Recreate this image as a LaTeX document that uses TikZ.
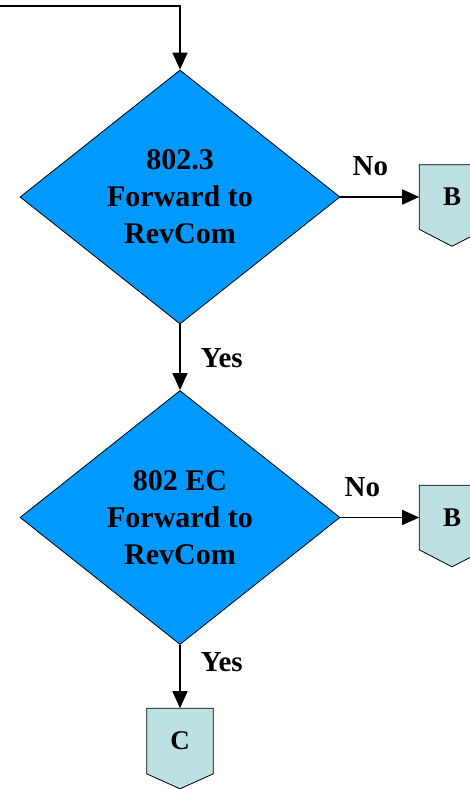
\documentclass[tikz,border=0pt]{standalone}
\usepackage{fontspec}
\setmainfont{Liberation Serif}
\usetikzlibrary{arrows.meta, shapes.geometric, backgrounds}
\definecolor{decisioncolor}{HTML}{0099FF}
\definecolor{offpagecolor}{HTML}{BDE0E3}

\begin{document}
\begin{tikzpicture}[
    x=1pt, y=-1pt,
    >={Triangle[length=17pt, width=15pt]},
    line width=1.6pt,
    decision/.style={diamond, draw=black, line width=0.8pt, fill=decisioncolor,
        minimum width=320pt, minimum height=254pt, inner sep=0pt, align=center,
        font=\fontsize{30}{37}\selectfont\bfseries},
    offpage/.style={minimum width=64pt, minimum height=63pt, inner sep=0pt,
        font=\fontsize{27}{30}\selectfont\bfseries},
    offpageshape/.style={draw=black, line width=0.8pt, fill=offpagecolor},
    answer/.style={inner sep=0pt, font=\fontsize{29}{32}\selectfont\bfseries}
]
    \useasboundingbox (0,0) rectangle (469,789);

    % Decisions
    \node[decision] (dec1) at (180,197) {802.3\\Forward to\\RevCom};
    \node[decision] (dec2) at (180,517.5) {802 EC\\Forward to\\RevCom};

    % Off-page connectors
    \node[offpage] (b1) at (452,197) {B};
    \node[offpage] (b2) at (452,517.5) {B};
    \node[offpage, minimum width=65pt, minimum height=64pt] (c) at (180,741) {C};
    \begin{scope}[on background layer]
        \foreach \n/\d in {b1/17, b2/17, c/15}
            \draw[offpageshape] (\n.north west) -- (\n.north east) -- (\n.south east)
                -- ([yshift=-\d pt]\n.south) -- (\n.south west) -- cycle;
    \end{scope}

    % Flow
    \coordinate (entry) at (0,6);
    \draw[->] (entry) -| (dec1.north);
    \draw[->] (dec1.east) -- (b1.west) node[answer, pos=0.38, above=20pt] {No};
    \draw[->] (dec1.south) -- (dec2.north) node[answer, pos=0.52, right=20pt] {Yes};
    \draw[->] (dec2.east) -- (b2.west) node[answer, pos=0.28, above=20pt] {No};
    \draw[->] (dec2.south) -- (c.north) node[answer, pos=0.27, right=20pt] {Yes};

\end{tikzpicture}
\end{document}
